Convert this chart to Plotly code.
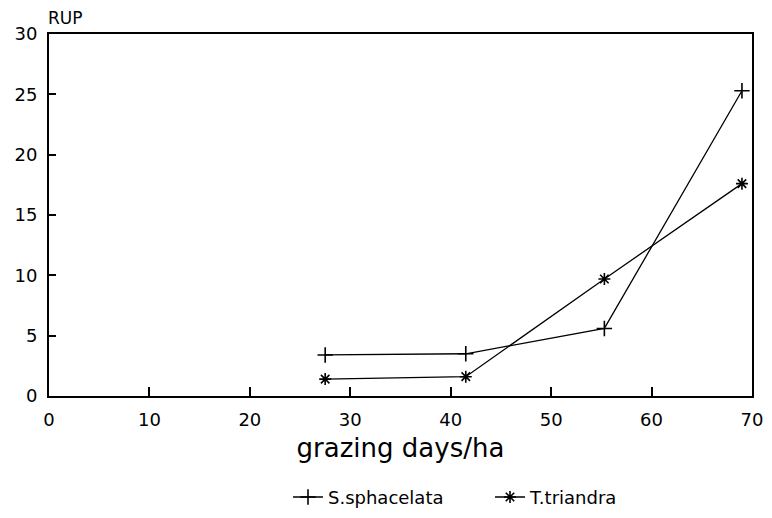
import plotly.graph_objects as go

grazing_days = [27.5, 41.5, 55.3, 69.0]
s_sphacelata = [3.4, 3.5, 5.6, 25.3]
t_triandra = [1.4, 1.6, 9.7, 17.6]

x_ticks = [0, 10, 20, 30, 40, 50, 60, 70]
y_ticks = [0, 5, 10, 15, 20, 25, 30]

fig = go.Figure()
fig.add_trace(go.Scatter(
    x=grazing_days, y=s_sphacelata, name="S.sphacelata", mode="lines+markers",
    line=dict(color="black", width=1.3),
    marker=dict(symbol="cross-thin", size=11, line=dict(color="black", width=1.6)),
))
fig.add_trace(go.Scatter(
    x=grazing_days, y=t_triandra, name="T.triandra", mode="lines+markers",
    line=dict(color="black", width=1.3),
    marker=dict(symbol="asterisk-open", size=10, line=dict(color="black", width=1.6)),
))

fig.update_layout(
    width=772, height=518,
    margin=dict(l=49, r=20, t=34, b=122, autoexpand=False),
    paper_bgcolor="white", plot_bgcolor="white",
    font=dict(family="DejaVu Sans, Arial, sans-serif", color="black", size=18),
    showlegend=True,
    legend=dict(orientation="h", x=288 / 772, xanchor="left", xref="container",
                y=0.04, yanchor="middle", yref="container",
                font=dict(size=18), itemwidth=30, entrywidth=157,
                bgcolor="rgba(0,0,0,0)"),
    xaxis=dict(range=[0, 70], tickvals=x_ticks, ticks="inside", ticklen=9,
               tickcolor="black", tickwidth=1.5, showgrid=False, zeroline=False,
               showline=True, linecolor="black", linewidth=2, mirror=True,
               automargin=False, ticklabelstandoff=6,
               title=dict(text="grazing days/ha", font=dict(size=26), standoff=10),
               tickfont=dict(size=18)),
    yaxis=dict(range=[0, 30], tickvals=y_ticks, ticks="inside", ticklen=7,
               tickcolor="black", tickwidth=1.5, showgrid=False, zeroline=False,
               showline=True, linecolor="black", linewidth=2, mirror=True,
               automargin=False, ticklabelstandoff=6, tickfont=dict(size=18)),
    annotations=[dict(text="RUP", xref="paper", yref="paper", x=0, y=1,
                      xanchor="left", yanchor="bottom", yshift=4, xshift=-3,
                      showarrow=False, font=dict(size=17))],
)

fig.write_html("out.html")
